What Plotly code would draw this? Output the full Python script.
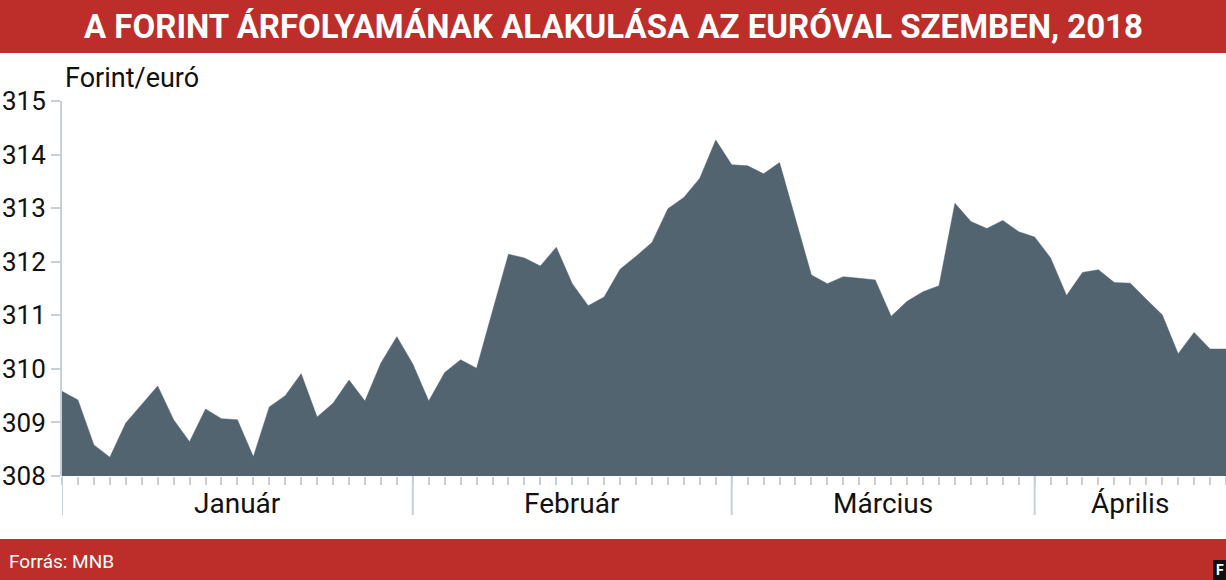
import plotly.graph_objects as go

# ---- data (EUR/HUF, trading days Jan 2 - Apr 19, 2018) ----
day_index = list(range(74))
rate = [
    309.58, 309.42, 308.58, 308.35, 308.99, 309.33, 309.68, 309.05, 308.64, 309.25,
    309.07, 309.05, 308.36, 309.29, 309.50, 309.91, 309.10, 309.36, 309.79, 309.40,
    310.11, 310.60, 310.09, 309.40, 309.93, 310.17, 310.01, 311.08, 312.14, 312.07,
    311.92, 312.27, 311.59, 311.18, 311.34, 311.86, 312.10, 312.36, 312.99, 313.20,
    313.56, 314.27, 313.81, 313.79, 313.64, 313.85, 312.80, 311.75, 311.59, 311.72,
    311.69, 311.66, 310.98, 311.26, 311.44, 311.55, 313.09, 312.75, 312.62, 312.77,
    312.56, 312.46, 312.07, 311.37, 311.80, 311.85, 311.61, 311.60, 311.30, 311.01,
    310.28, 310.68, 310.37, 310.37,
]
month_starts = [0, 22, 42, 61]
month_names = ["Január", "Február", "Március", "Április"]
month_label_pos = [11, 32, 51.5, 67]
y_ticks = [308, 309, 310, 311, 312, 313, 314, 315]

title_text = "A FORINT ÁRFOLYAMÁNAK ALAKULÁSA AZ EURÓVAL SZEMBEN, 2018"
source_text = "Forrás: MNB"
unit_text = "Forint/euró"

# ---- layout geometry ----
W, H = 1226, 580
ML, MR, MT, MB = 62, 0, 101, 104
PW, PH = W - ML - MR, H - MT - MB

def px_x(x):
    return (x - ML) / PW

def px_y(y_from_top):
    return (H - MB - y_from_top) / PH

FONT = "Roboto, 'Liberation Sans', sans-serif"
RED = "#BD2E2A"
FILL = "#526470"
TICK = "#C5D0D8"

fig = go.Figure()
fig.add_trace(go.Scatter(
    x=day_index, y=rate, mode="lines", fill="tozeroy",
    line=dict(color=FILL, width=0.5), fillcolor=FILL,
    hoverinfo="skip", showlegend=False,
))

fig.update_layout(
    width=W, height=H,
    margin=dict(l=ML, r=MR, t=MT, b=MB, autoexpand=False),
    paper_bgcolor="white", plot_bgcolor="white",
    font=dict(family=FONT, color="#111111"),
    xaxis=dict(
        range=[0, 73], showgrid=False, zeroline=False, showline=False,
        automargin=False,
        tickmode="array", tickvals=month_starts, ticktext=["" for _ in month_starts],
        ticks="outside", ticklen=38, tickwidth=2, tickcolor=TICK,
        showticklabels=False,
        minor=dict(dtick=1, tick0=0, ticks="outside", ticklen=8, tickwidth=2, tickcolor=TICK),
    ),
    yaxis=dict(
        range=[308, 315], showgrid=False, zeroline=False, automargin=False,
        showline=True, linecolor=TICK, linewidth=2,
        tickmode="array", tickvals=y_ticks, ticktext=[str(v) for v in y_ticks],
        ticks="outside", ticklen=9, tickwidth=2, tickcolor=TICK,
        tickfont=dict(size=26, family=FONT, color="#111111"),
    ),
)

shapes = [
    dict(type="rect", xref="paper", yref="paper", x0=px_x(0), x1=px_x(W),
         y0=px_y(53), y1=px_y(0), fillcolor=RED, line=dict(width=0), layer="above"),
    dict(type="rect", xref="paper", yref="paper", x0=px_x(0), x1=px_x(W),
         y0=px_y(H), y1=px_y(539), fillcolor=RED, line=dict(width=0), layer="above"),
    dict(type="rect", xref="paper", yref="paper", x0=px_x(1213), x1=px_x(W),
         y0=px_y(H), y1=px_y(560), fillcolor="#111111", line=dict(width=0), layer="above"),
]
# long month-boundary ticks
for m in month_starts:
    shapes.append(dict(type="line", xref="x", yref="paper", x0=m, x1=m,
                       y0=0, y1=px_y(515), line=dict(color=TICK, width=2)))
fig.update_layout(shapes=shapes)

ann = [
    dict(text=f"<b>{title_text}</b>", xref="paper", yref="paper",
         x=px_x(613), y=px_y(27), xanchor="center", yanchor="middle",
         showarrow=False, font=dict(size=33, color="white", family=FONT)),
    dict(text=source_text, xref="paper", yref="paper",
         x=px_x(7), y=px_y(561), xanchor="left", yanchor="middle",
         showarrow=False, font=dict(size=19, color="white", family=FONT)),
    dict(text="<b>F</b>", xref="paper", yref="paper",
         x=px_x(1219.5), y=px_y(570), xanchor="center", yanchor="middle",
         showarrow=False, font=dict(size=14, color="white", family=FONT)),
    dict(text=unit_text, xref="paper", yref="paper",
         x=px_x(63), y=px_y(78), xanchor="left", yanchor="middle",
         showarrow=False, font=dict(size=27, color="#111111", family=FONT)),
]
for name, pos in zip(month_names, month_label_pos):
    ann.append(dict(text=name, xref="x", yref="paper", x=pos, y=px_y(503),
                    xanchor="center", yanchor="middle", showarrow=False,
                    font=dict(size=28, color="#111111", family=FONT)))
fig.update_layout(annotations=ann)

fig.write_html(
    "out.html",
    config={"displayModeBar": False},
    post_script="document.body.style.margin='0';document.body.style.overflow='hidden';",
)
